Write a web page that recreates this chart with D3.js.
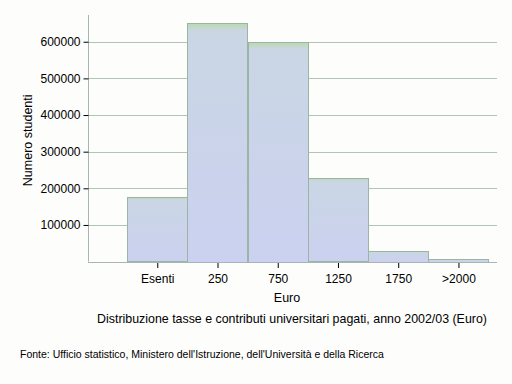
<!DOCTYPE html>
<html>
<head>
<meta charset="utf-8">
<script src="https://cdn.jsdelivr.net/npm/d3@7"></script>
<style>
body { margin: 0; background: #fff; }
text { font-family: "Liberation Sans", Arial, sans-serif; fill: #000; }
</style>
</head>
<body>
<svg id="chart"></svg>
<script>
var categories = ['Esenti', '250', '750', '1250', '1750', '>2000'];
var students = [175000, 651000, 600000, 227000, 29000, 7000];
var yTicks = [100000, 200000, 300000, 400000, 500000, 600000];

var width = 512,
    height = 384;

var svg = d3.select('#chart')
	.attr('width', width)
	.attr('height', height)
	.style('display', 'block')
	.style('background-color', '#fdfdfc');

var plotLeft = 88, plotRight = 497, plotTop = 15, plotBottom = 261.6;

var x = d3.scaleLinear()
	.domain([-1.15, 5.64])
	.range([plotLeft, plotRight]);
var step = x(1) - x(0);

var y = d3.scaleLinear()
	.domain([0, 673000])
	.range([plotBottom, plotTop]);

var defs = svg.append('defs');
var grad = defs.append('linearGradient')
	.attr('id', 'barfill')
	.attr('x1', 0).attr('y1', 0).attr('x2', 0).attr('y2', 1);
grad.append('stop').attr('offset', '0%').attr('stop-color', '#bcd8ad');
grad.append('stop').attr('offset', '3%').attr('stop-color', '#cad6e4');
grad.append('stop').attr('offset', '100%').attr('stop-color', '#cbd1f0');

// gridlines
svg.append('g')
	.selectAll('line')
	.data(yTicks)
	.enter()
	.append('line')
	.attr('x1', plotLeft)
	.attr('x2', plotRight)
	.attr('y1', d => Math.round(y(d)) + 0.5)
	.attr('y2', d => Math.round(y(d)) + 0.5)
	.attr('stroke', '#b2c4b4');

// bars
svg.append('g')
	.selectAll('rect')
	.data(students)
	.enter()
	.append('rect')
	.attr('x', (d, i) => Math.round(x(i) - step/2) + 0.5)
	.attr('width', Math.round(step))
	.attr('y', d => Math.round(y(d)) + 0.5)
	.attr('height', d => Math.round(plotBottom - y(d)))
	.attr('fill', 'url(#barfill)')
	.attr('stroke', '#9ab5a2');

// axes
var yAxis = d3.axisLeft(y)
	.tickValues(yTicks)
	.tickSize(5)
	.tickSizeOuter(0)
	.tickFormat(d3.format('d'));

var gy = svg.append('g')
	.attr('transform', `translate(${plotLeft + 0.5},0)`)
	.call(yAxis);
gy.select('.domain').attr('stroke', '#a8b4b8').attr('d', `M0,${plotTop}V${plotBottom}`);
gy.selectAll('.tick line').attr('stroke', '#000');
gy.selectAll('.tick text')
	.attr('x', -8)
	.style('font-size', '12px');

var xAxis = d3.axisBottom(x)
	.tickValues(d3.range(categories.length))
	.tickSize(5)
	.tickFormat(i => categories[i]);

var gx = svg.append('g')
	.attr('transform', `translate(0,${Math.round(plotBottom)})`)
	.call(xAxis);
gx.select('.domain').attr('stroke', '#a8b4b8').attr('d', `M${plotLeft},0.5H${plotRight}`);
gx.selectAll('.tick line').attr('stroke', '#000').attr('y1', 1).attr('y2', 6);
gx.selectAll('.tick text')
	.attr('y', 12)
	.style('font-size', '12px');

gy.attr('font-family', null).attr('font-size', null);
gx.attr('font-family', null).attr('font-size', null);

svg.append('text')
	.attr('transform', `translate(32,${(plotTop + plotBottom)/2 + 2}) rotate(-90)`)
	.attr('text-anchor', 'middle')
	.style('font-size', '12.5px')
	.text('Numero studenti');

svg.append('text')
	.attr('x', 287)
	.attr('y', 302)
	.attr('text-anchor', 'middle')
	.style('font-size', '12.5px')
	.text('Euro');

svg.append('text')
	.attr('x', 292)
	.attr('y', 323)
	.attr('text-anchor', 'middle')
	.style('font-size', '12.4px')
	.text('Distribuzione tasse e contributi universitari pagati, anno 2002/03 (Euro)');

svg.append('text')
	.attr('x', 20)
	.attr('y', 358)
	.style('font-size', '10.5px')
	.text('Fonte: Ufficio statistico, Ministero dell\'Istruzione, dell\'Università e della Ricerca');
</script>
</body>
</html>
